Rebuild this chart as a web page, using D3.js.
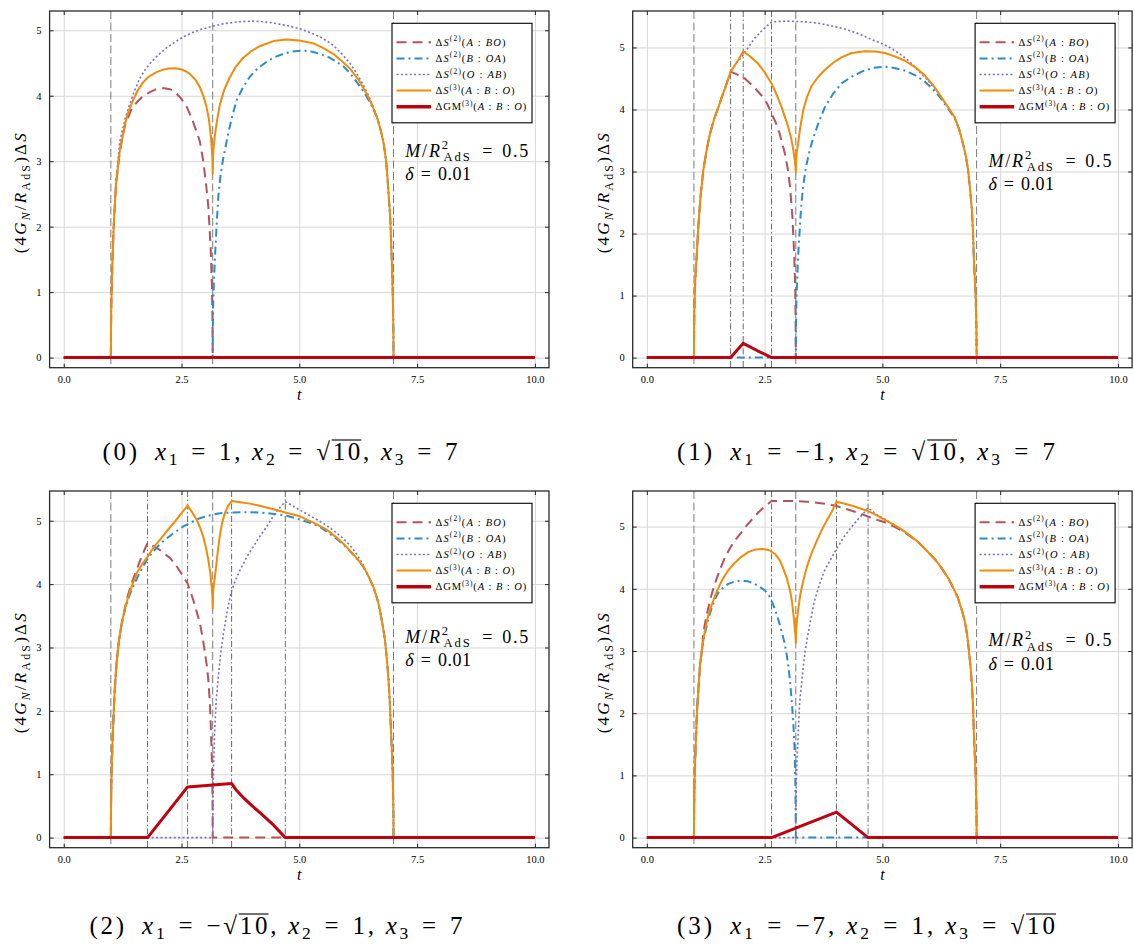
<!DOCTYPE html>
<html>
<head>
<meta charset="utf-8">
<script src="https://cdn.jsdelivr.net/npm/d3@7"></script>
<style>
  body { margin: 0; background: #fff; }
  svg text { font-family: 'Liberation Serif', 'DejaVu Serif', serif; fill: #000; }
</style>
</head>
<body>
<svg id="fig" width="1134" height="945"></svg>
<script>
// ticks
const xTicks = [0, 2.5, 5, 7.5, 10];
const xTickLabels = ['0.0', '2.5', '5.0', '7.5', '10.0'];
const yTicks = [0, 1, 2, 3, 4, 5];

// ---- panneau (0) : x1 = 1, x2 = sqrt(10), x3 = 7 ----
const p0_vDash = [1, 3.162, 7];
const p0_vDashDot = [];
const p0_end = [[6.65,3.67],[6.73,3.47],[6.79,3.27],[6.84,3.02],[6.87,2.76],[6.9,2.45],[6.93,2.14],[6.96,1.55],[6.975,1.2],[6.99,0.8],[6.997,0.4],[7,0],[10,0]];
const p0_A = [[0,0],[1,0],[1.003,0.4],[1.01,0.8],[1.02,1.1],[1.035,1.48],[1.06,2.0],[1.11,2.65],[1.19,3.15],[1.3,3.55],[1.44,3.8],[1.55,3.9],[1.65,3.97],[1.74,4.02],[1.84,4.06],[1.93,4.09],[2.03,4.11],[2.14,4.115],[2.25,4.1],[2.36,4.06],[2.5,3.95],[2.61,3.83],[2.71,3.67],[2.82,3.45],[2.89,3.3],[2.96,3.01],[3.02,2.65],[3.07,2.3],[3.12,1.65],[3.145,1.1],[3.157,0.6],[3.162,0],[10,0]];
const p0_B = [[0,0],[3.162,0],[3.165,0.5],[3.175,0.9],[3.19,1.2],[3.21,1.53],[3.24,1.95],[3.28,2.45],[3.33,2.8],[3.39,3.06],[3.49,3.42],[3.58,3.7],[3.67,3.93],[3.8,4.12],[3.95,4.29],[4.12,4.42],[4.31,4.52],[4.48,4.59],[4.66,4.64],[4.85,4.675],[5.09,4.69],[5.25,4.675],[5.44,4.64],[5.62,4.59],[5.79,4.52],[5.95,4.44],[6.08,4.34],[6.22,4.21],[6.36,4.07],[6.45,3.96],[6.55,3.83]].concat(p0_end);
const p0_O = [[0,0],[1,0],[1.003,0.4],[1.01,0.8],[1.02,1.1],[1.035,1.5],[1.06,2.05],[1.11,2.7],[1.19,3.3],[1.3,3.64],[1.4,3.87],[1.5,4.07],[1.61,4.26],[1.72,4.39],[1.83,4.49],[2.0,4.62],[2.18,4.73],[2.36,4.82],[2.54,4.9],[2.72,4.96],[2.89,5.01],[3.16,5.06],[3.4,5.1],[3.6,5.12],[3.8,5.135],[4.02,5.14],[4.25,5.13],[4.45,5.11],[4.75,5.07],[5.02,5.02],[5.25,4.96],[5.44,4.9],[5.6,4.83],[5.72,4.77],[5.9,4.64],[6.08,4.49],[6.22,4.34],[6.36,4.16],[6.47,4.0],[6.57,3.83]].concat(p0_end);
const p0_S3 = [[0,0],[1,0],[1.003,0.4],[1.01,0.8],[1.02,1.1],[1.035,1.48],[1.06,2.0],[1.11,2.65],[1.19,3.16],[1.3,3.57],[1.38,3.77],[1.47,3.93],[1.57,4.08],[1.68,4.2],[1.8,4.29],[1.97,4.36],[2.1,4.395],[2.22,4.415],[2.36,4.42],[2.5,4.4],[2.6,4.37],[2.68,4.33],[2.8,4.24],[2.89,4.13],[2.97,3.98],[3.03,3.83],[3.08,3.65],[3.12,3.4],[3.145,3.17],[3.155,3.04],[3.162,2.81],[3.17,3.06],[3.18,3.19],[3.21,3.4],[3.25,3.6],[3.31,3.85],[3.4,4.08],[3.53,4.29],[3.65,4.44],[3.81,4.58],[4.0,4.69],[4.17,4.76],[4.45,4.835],[4.73,4.86],[5.0,4.845],[5.3,4.8],[5.5,4.73],[5.72,4.64],[5.9,4.53],[6.08,4.41],[6.25,4.25],[6.43,4.03],[6.55,3.85]].concat(p0_end);
const p0_GM = [[0,0],[10,0]];

// ---- panneau (1) : x1 = -1, x2 = sqrt(10), x3 = 7 ----
const p1_vDash = [1, 3.162, 7];
const p1_vDashDot = [1.778, 2.046, 2.647];
const p1_start = [[0,0],[1,0],[1.003,0.4],[1.01,0.8],[1.02,1.1],[1.035,1.35],[1.057,1.62],[1.092,2.11],[1.14,2.6],[1.198,3.02],[1.27,3.35],[1.34,3.61],[1.43,3.85],[1.52,4.04],[1.6,4.22],[1.66,4.34],[1.72,4.48],[1.778,4.61]];
const p1_end = [[6.63,3.68],[6.71,3.45],[6.77,3.25],[6.82,3.02],[6.86,2.72],[6.9,2.38],[6.925,2.0],[6.94,1.62],[6.96,1.3],[6.98,0.95],[6.992,0.6],[6.998,0.3],[7,0],[10,0]];
const p1_A = p1_start.concat([[1.9,4.57],[2.08,4.5],[2.25,4.38],[2.43,4.23],[2.55,4.1],[2.647,3.94],[2.74,3.78],[2.82,3.61],[2.93,3.29],[2.99,3.05],[3.04,2.75],[3.09,2.27],[3.13,1.62],[3.15,1.1],[3.158,0.6],[3.162,0],[10,0]]);
const p1_B = [[0,0],[3.162,0],[3.165,0.5],[3.175,0.9],[3.19,1.25],[3.21,1.62],[3.24,2.0],[3.27,2.38],[3.32,2.78],[3.38,3.08],[3.45,3.32],[3.52,3.51],[3.65,3.8],[3.78,4.04],[3.95,4.25],[4.13,4.42],[4.35,4.53],[4.56,4.61],[4.8,4.67],[5.05,4.69],[5.25,4.67],[5.47,4.63],[5.7,4.55],[5.9,4.45],[6.08,4.32],[6.25,4.17],[6.35,4.06],[6.46,3.94],[6.53,3.86]].concat(p1_end);
const p1_O = p1_start.concat([[1.9,4.75],[2.046,4.88],[2.17,5.02],[2.29,5.15],[2.4,5.24],[2.51,5.32],[2.647,5.41],[2.8,5.42],[3.0,5.425],[3.16,5.42],[3.4,5.41],[3.64,5.39],[3.9,5.35],[4.13,5.31],[4.35,5.26],[4.56,5.2],[4.8,5.12],[5.0,5.06],[5.2,4.98],[5.4,4.88],[5.58,4.77],[5.76,4.63],[5.95,4.48],[6.11,4.34],[6.26,4.19],[6.39,4.04],[6.53,3.88]], p1_end);
const p1_S3 = p1_start.concat([[1.85,4.69],[1.95,4.81],[2.046,4.94],[2.2,4.85],[2.36,4.74],[2.5,4.6],[2.647,4.42],[2.76,4.23],[2.86,4.04],[2.93,3.88],[3.0,3.72],[3.06,3.55],[3.11,3.34],[3.14,3.18],[3.155,3.07],[3.162,2.98],[3.17,3.2],[3.185,3.32],[3.21,3.45],[3.26,3.73],[3.32,3.99],[3.4,4.2],[3.49,4.37],[3.63,4.52],[3.78,4.64],[3.95,4.75],[4.13,4.84],[4.35,4.91],[4.62,4.94],[4.85,4.935],[5.05,4.91],[5.25,4.86],[5.47,4.79],[5.7,4.68],[5.9,4.55],[6.08,4.39],[6.25,4.2],[6.4,4.03],[6.53,3.88]], p1_end);
const p1_GM = [[0,0],[1.778,0],[2.046,0.23],[2.35,0.11],[2.647,0],[10,0]];

// ---- panneau (2) : x1 = -sqrt(10), x2 = 1, x3 = 7 ----
const p2_vDash = [1, 3.162, 7];
const p2_vDashDot = [1.779, 2.629, 3.563, 4.703];
const p2_start = [[0,0],[1,0],[1.003,0.4],[1.01,0.85],[1.02,1.15],[1.035,1.5],[1.05,1.79],[1.08,2.3],[1.12,2.74],[1.17,3.1],[1.23,3.38]];
const p2_end = [[6.57,3.96],[6.65,3.78],[6.71,3.59],[6.77,3.35],[6.82,3.11],[6.86,2.8],[6.89,2.53],[6.92,2.15],[6.94,1.79],[6.96,1.45],[6.98,1.05],[6.993,0.65],[6.998,0.35],[7,0],[10,0]];
const p2_A = p2_start.concat([[1.3,3.63],[1.36,3.82],[1.45,4.03],[1.55,4.23],[1.66,4.45],[1.779,4.65],[1.9,4.6],[2.02,4.55],[2.14,4.48],[2.26,4.41],[2.37,4.31],[2.47,4.2],[2.629,4.01],[2.75,3.75],[2.82,3.57],[2.89,3.38],[2.95,3.15],[2.99,2.95],[3.04,2.7],[3.07,2.48],[3.1,2.15],[3.12,1.79],[3.14,1.35],[3.153,0.9],[3.159,0.5],[3.162,0],[10,0]]);
const p2_B = p2_start.concat([[1.3,3.6],[1.38,3.79],[1.47,3.96],[1.58,4.13],[1.68,4.27],[1.779,4.4],[1.89,4.51],[2.03,4.62],[2.18,4.72],[2.36,4.82],[2.54,4.91],[2.72,4.98],[2.89,5.04],[3.07,5.08],[3.25,5.11],[3.42,5.125],[3.6,5.13],[3.78,5.135],[3.95,5.135],[4.15,5.13],[4.38,5.115],[4.55,5.1],[4.73,5.08],[5.01,5.02],[5.3,4.95],[5.44,4.9],[5.6,4.82],[5.8,4.71],[6.0,4.58],[6.18,4.44],[6.36,4.27],[6.47,4.12]], p2_end);
const p2_O = [[0,0],[3.162,0],[3.165,0.5],[3.175,0.95],[3.19,1.35],[3.21,1.79],[3.24,2.2],[3.28,2.53],[3.33,2.9],[3.39,3.22],[3.47,3.58],[3.563,3.9],[3.65,4.07],[3.74,4.22],[3.88,4.42],[4.02,4.59],[4.16,4.75],[4.31,4.91],[4.42,5.04],[4.52,5.15],[4.61,5.23],[4.703,5.3],[4.85,5.24],[5.01,5.17],[5.2,5.09],[5.37,5.02],[5.55,4.94],[5.72,4.85],[5.9,4.74],[6.08,4.61],[6.22,4.47],[6.36,4.3],[6.47,4.13]].concat(p2_end);
const p2_S3 = p2_start.concat([[1.3,3.62],[1.37,3.8],[1.46,4.0],[1.55,4.17],[1.66,4.31],[1.779,4.43],[1.9,4.57],[2.04,4.7],[2.18,4.83],[2.33,4.96],[2.48,5.1],[2.629,5.24],[2.72,5.14],[2.82,5.02],[2.9,4.88],[2.96,4.75],[3.02,4.57],[3.07,4.38],[3.11,4.18],[3.14,3.96],[3.155,3.82],[3.162,3.61],[3.17,3.86],[3.185,3.98],[3.21,4.12],[3.26,4.45],[3.31,4.75],[3.36,4.96],[3.42,5.12],[3.49,5.24],[3.563,5.31],[3.75,5.29],[3.95,5.27],[4.2,5.23],[4.45,5.18],[4.703,5.13],[5.01,5.07],[5.3,4.97],[5.58,4.86],[5.8,4.73],[6.0,4.59],[6.18,4.44],[6.36,4.28],[6.47,4.12]], p2_end);
const p2_GM = [[0,0],[1.779,0],[2.629,0.8],[3.162,0.83],[3.563,0.855],[3.65,0.76],[3.8,0.64],[4.0,0.5],[4.2,0.37],[4.45,0.2],[4.703,0],[10,0]];

// ---- panneau (3) : x1 = -7, x2 = 1, x3 = sqrt(10) ----
const p3_vDash = [1, 3.162, 7];
const p3_vDashDot = [2.647, 4.025, 4.696];
const p3_start = [[0,0],[1,0],[1.003,0.4],[1.01,0.85],[1.02,1.15],[1.043,1.6],[1.07,2.1],[1.1,2.45],[1.13,2.78],[1.18,3.08]];
const p3_end = [[6.25,4.34],[6.39,4.18],[6.5,4.02],[6.6,3.86],[6.68,3.67],[6.75,3.48],[6.8,3.25],[6.83,3.05],[6.87,2.75],[6.9,2.46],[6.925,2.1],[6.94,1.71],[6.96,1.35],[6.98,0.98],[6.993,0.6],[6.998,0.32],[7,0],[10,0]];
const p3_A = p3_start.concat([[1.2,3.3],[1.27,3.58],[1.34,3.81],[1.41,4.0],[1.48,4.16],[1.57,4.34],[1.66,4.51],[1.77,4.66],[1.87,4.78],[2.0,4.9],[2.12,5.02],[2.25,5.13],[2.37,5.23],[2.5,5.32],[2.647,5.41],[2.9,5.41],[3.14,5.41],[3.4,5.4],[3.64,5.38],[3.85,5.36],[4.025,5.33],[4.25,5.28],[4.49,5.22],[4.7,5.16],[4.88,5.11],[5.05,5.07],[5.22,5.01],[5.4,4.94],[5.58,4.85],[5.76,4.75],[5.93,4.62],[6.11,4.48]], p3_end);
const p3_B = p3_start.concat([[1.23,3.27],[1.3,3.5],[1.38,3.7],[1.45,3.84],[1.52,3.94],[1.62,4.02],[1.73,4.08],[1.87,4.12],[2.01,4.13],[2.15,4.12],[2.29,4.08],[2.4,4.03],[2.51,3.97],[2.6,3.88],[2.68,3.75],[2.75,3.6],[2.82,3.43],[2.88,3.26],[2.93,3.11],[2.97,2.93],[3.01,2.73],[3.04,2.5],[3.07,2.25],[3.1,1.95],[3.13,1.55],[3.148,1.1],[3.157,0.6],[3.162,0],[10,0]]);
const p3_O = [[0,0],[3.162,0],[3.165,0.5],[3.175,0.95],[3.19,1.3],[3.21,1.6],[3.24,2.14],[3.31,2.68],[3.36,3.0],[3.42,3.27],[3.49,3.55],[3.56,3.81],[3.66,4.06],[3.77,4.29],[3.9,4.47],[4.025,4.64],[4.18,4.83],[4.34,4.99],[4.45,5.09],[4.56,5.18],[4.63,5.24],[4.696,5.3],[4.88,5.19],[5.05,5.12],[5.22,5.04],[5.4,4.95],[5.58,4.86],[5.76,4.75],[5.93,4.62],[6.11,4.48]].concat(p3_end);
const p3_S3 = p3_start.concat([[1.23,3.32],[1.3,3.56],[1.38,3.75],[1.48,3.95],[1.59,4.13],[1.72,4.29],[1.87,4.42],[2.0,4.51],[2.15,4.59],[2.3,4.63],[2.47,4.64],[2.6,4.62],[2.72,4.56],[2.82,4.46],[2.89,4.34],[2.97,4.17],[3.04,3.97],[3.08,3.8],[3.11,3.6],[3.14,3.37],[3.155,3.25],[3.162,3.13],[3.17,3.36],[3.185,3.48],[3.21,3.65],[3.26,3.92],[3.32,4.13],[3.4,4.36],[3.49,4.56],[3.6,4.76],[3.71,4.94],[3.82,5.1],[3.92,5.23],[4.025,5.4],[4.18,5.37],[4.34,5.34],[4.5,5.3],[4.696,5.25],[4.88,5.18],[5.05,5.11],[5.22,5.04],[5.4,4.96],[5.58,4.86],[5.76,4.75],[5.93,4.62],[6.11,4.48]], p3_end);
const p3_GM = [[0,0],[2.647,0],[4.025,0.41],[4.696,0],[10,0]];

// légendes et textes
const EQ = '\u2004=\u2004';
const legendLabels = [
  [['Δ','r'],['S','i'],['(2)','sup'],['(','r'],['A','i'],[' : ','r'],['BO','i'],[')','r']],
  [['Δ','r'],['S','i'],['(2)','sup'],['(','r'],['B','i'],[' : ','r'],['OA','i'],[')','r']],
  [['Δ','r'],['S','i'],['(2)','sup'],['(','r'],['O','i'],[' : ','r'],['AB','i'],[')','r']],
  [['Δ','r'],['S','i'],['(3)','sup'],['(','r'],['A','i'],[' : ','r'],['B','i'],[' : ','r'],['O','i'],[')','r']],
  [['ΔGM','r'],['(3)','sup'],['(','r'],['A','i'],[' : ','r'],['B','i'],[' : ','r'],['O','i'],[')','r']]
];
const legendWidths = [70, 70, 70.7, 79, 90.7];
const captions = [
  [['(0)\u2002','r'],['x','i'],['1','sub'],[EQ + '1, ','r'],['x','i'],['2','sub'],[EQ + '√','r'],['10','rad'],[', ','r'],['x','i'],['3','sub'],[EQ + '7','r']],
  [['(1)\u2002','r'],['x','i'],['1','sub'],[EQ + '−1, ','r'],['x','i'],['2','sub'],[EQ + '√','r'],['10','rad'],[', ','r'],['x','i'],['3','sub'],[EQ + '7','r']],
  [['(2)\u2002','r'],['x','i'],['1','sub'],[EQ + '−√','r'],['10','rad'],[', ','r'],['x','i'],['2','sub'],[EQ + '1, ','r'],['x','i'],['3','sub'],[EQ + '7','r']],
  [['(3)\u2002','r'],['x','i'],['1','sub'],[EQ + '−7, ','r'],['x','i'],['2','sub'],[EQ + '1, ','r'],['x','i'],['3','sub'],[EQ + '√','r'],['10','rad']]
];
const captionWidths = [355, 378, 373, 378];
const yLabel = [['(4','r'],['G','i'],['N','subi'],['/','r'],['R','i'],['AdS','sub'],[')Δ','r'],['S','i']];
const note1 = [['M','i'],['/','r'],['R','i'],['2','sup'],['AdS','sub', -6.3],['\u2002=\u20040.5','r']];
const note2 = [['δ','i'],[EQ + '0.01','r']];

// styles des séries
const styles = [
  {color: '#b5525c', width: 2, dash: '10,6'},
  {color: '#2d8bc9', width: 2, dash: '8,4,2,4'},
  {color: '#7a6ebd', width: 1.6, dash: '2,2.4'},
  {color: '#f08c0a', width: 2, dash: null},
  {color: '#c0000f', width: 3, dash: null}
];

const dims = {w: 499.4, h: 356.7};
const panels = [
  {x: 49.6,  y: 11,  series: [p0_A, p0_B, p0_O, p0_S3, p0_GM], vDash: p0_vDash, vDashDot: p0_vDashDot, cx: 280, cy: 460},
  {x: 632.7, y: 11,  series: [p1_A, p1_B, p1_O, p1_S3, p1_GM], vDash: p1_vDash, vDashDot: p1_vDashDot, cx: 866, cy: 460},
  {x: 49.6,  y: 491, series: [p2_A, p2_B, p2_O, p2_S3, p2_GM], vDash: p2_vDash, vDashDot: p2_vDashDot, cx: 276, cy: 934},
  {x: 632.7, y: 491, series: [p3_A, p3_B, p3_O, p3_S3, p3_GM], vDash: p3_vDash, vDashDot: p3_vDashDot, cx: 866, cy: 934}
];

const svg = d3.select('#fig');

// texte "mathématique" en tspans
const mtext = (parent, parts, size, subDrop) => {
  const t = parent.append('text').attr('font-size', size);
  let off = 0, idx = 0;
  const rad = [];
  parts.forEach(([s, k, dx]) => {
    const sp = t.append('tspan').text(s);
    const want = k === 'sup' ? -0.42 * size : (k === 'sub' || k === 'subi') ? (subDrop || 0.24) * size : 0;
    if (want !== off) { sp.attr('dy', want - off); off = want; }
    if (k === 'sup' || k === 'sub' || k === 'subi') sp.attr('font-size', 0.7 * size);
    if (k === 'i' || k === 'subi') sp.attr('font-style', 'italic');
    if (dx) sp.attr('dx', dx);
    if (k === 'rad') rad.push([idx, idx + s.length]);
    idx += s.length;
  });
  return {t, rad};
};

// barre du radical
const drawRad = (parent, m, y, size) => {
  const node = m.t.node();
  m.rad.forEach(([a, b]) => {
    const x1 = node.getStartPositionOfChar(a).x - 1;
    const x2 = node.getEndPositionOfChar(b - 1).x + 1;
    parent.append('line')
          .attr('x1', x1).attr('x2', x2)
          .attr('y1', y - 0.8 * size).attr('y2', y - 0.8 * size)
          .attr('stroke', '#000').attr('stroke-width', 1.1);
  });
};

const line = d3.line();

panels.forEach((p, pi) => {
  const g = svg.append('g').attr('transform', `translate(${p.x}, ${p.y})`);

  const yMax = d3.max(p.series, s => d3.max(s, d => d[1]));
  const x = d3.scaleLinear().domain([-0.3, 10.3]).range([0, dims.w]);
  const y = d3.scaleLinear().domain([-0.03 * yMax, 1.03 * yMax]).range([dims.h, 0]);
  line.x(d => x(d[0])).y(d => y(d[1]));

  // grille
  g.append('g')
   .attr('transform', `translate(0, ${dims.h})`)
   .call(d3.axisBottom(x).tickValues(xTicks).tickSize(-dims.h).tickFormat(''))
   .call(a => a.select('.domain').remove())
   .selectAll('line').attr('stroke', '#d6d6d6').attr('stroke-width', 1);
  g.append('g')
   .call(d3.axisLeft(y).tickValues(yTicks).tickSize(-dims.w).tickFormat(''))
   .call(a => a.select('.domain').remove())
   .selectAll('line').attr('stroke', '#d6d6d6').attr('stroke-width', 1);

  // lignes verticales
  g.selectAll('.vdash').data(p.vDash).enter().append('line')
   .attr('x1', d => x(d)).attr('x2', d => x(d)).attr('y1', 0).attr('y2', dims.h)
   .attr('stroke', '#7a7a7a').attr('stroke-width', 1).attr('stroke-dasharray', '8,3.5');
  g.selectAll('.vdd').data(p.vDashDot).enter().append('line')
   .attr('x1', d => x(d)).attr('x2', d => x(d)).attr('y1', 0).attr('y2', dims.h)
   .attr('stroke', '#6a6a6a').attr('stroke-width', 1).attr('stroke-dasharray', '6,2.5,1.5,2.5');

  // courbes
  p.series.forEach((s, i) => {
    g.append('path')
     .attr('d', line(s))
     .attr('fill', 'none')
     .attr('stroke', styles[i].color)
     .attr('stroke-width', styles[i].width)
     .attr('stroke-linejoin', 'round')
     .attr('stroke-dasharray', styles[i].dash);
  });

  // cadre + graduations
  const axes = [
    [d3.axisBottom(x).tickValues(xTicks).tickFormat((d, i) => xTickLabels[i]), `translate(0, ${dims.h})`],
    [d3.axisTop(x).tickValues(xTicks).tickFormat(''), 'translate(0, 0)'],
    [d3.axisLeft(y).tickValues(yTicks).tickFormat(d3.format('d')), 'translate(0, 0)'],
    [d3.axisRight(y).tickValues(yTicks).tickFormat(''), `translate(${dims.w}, 0)`]
  ];
  axes.forEach(([ax, tr]) => {
    const a = g.append('g').attr('transform', tr)
               .call(ax.tickSizeInner(-4).tickSizeOuter(0).tickPadding(8));
    a.select('.domain').remove();
    a.selectAll('line').attr('stroke', '#222').attr('stroke-width', 1);
    a.selectAll('text').attr('font-size', 10.5).attr('font-family', "'Liberation Serif', serif");
  });
  g.append('rect').attr('width', dims.w).attr('height', dims.h)
   .attr('fill', 'none').attr('stroke', '#2a2a2a').attr('stroke-width', 1.3);

  // titres des axes
  g.append('text').attr('x', dims.w / 2).attr('y', dims.h + 32)
   .attr('text-anchor', 'middle').attr('font-size', 16).attr('font-style', 'italic').text('t');
  const yl = g.append('g').attr('transform', `translate(-29, ${dims.h / 2 + 4}) rotate(-90)`);
  mtext(yl, yLabel, 17).t.attr('text-anchor', 'middle').attr('y', 5)
    .attr('textLength', 120).attr('lengthAdjust', 'spacing');

  // légende
  const lg = g.append('g').attr('transform', `translate(${dims.w - 157}, 12.3)`);
  lg.append('rect').attr('width', 140).attr('height', 99.5)
    .attr('fill', '#fff').attr('stroke', '#000').attr('stroke-width', 1.1);
  legendLabels.forEach((lab, i) => {
    const ry = 19 + i * 16.1;
    lg.append('line').attr('x1', 4.5).attr('x2', 39).attr('y1', ry).attr('y2', ry)
      .attr('stroke', styles[i].color).attr('stroke-width', styles[i].width + (i === 4 ? 0.5 : 0))
      .attr('stroke-dasharray', styles[i].dash);
    mtext(lg, lab, 10.5).t.attr('x', 43.5).attr('y', ry + 3.5)
      .attr('textLength', legendWidths[i]).attr('lengthAdjust', 'spacing');
  });

  // annotation
  const nx = x(7.25), ny = y(2.97);
  mtext(g, note1, 18).t.attr('x', nx).attr('y', ny - 6.5)
    .attr('textLength', 123).attr('lengthAdjust', 'spacing');
  mtext(g, note2, 18).t.attr('x', nx).attr('y', ny + 16.8)
    .attr('textLength', 65.7).attr('lengthAdjust', 'spacing');

  // légende sous le graphe
  const cap = mtext(svg, captions[pi], 25, 0.18);
  cap.t.attr('x', p.cx).attr('y', p.cy).attr('text-anchor', 'middle')
       .attr('textLength', captionWidths[pi]).attr('lengthAdjust', 'spacing');
  drawRad(svg, cap, p.cy, 25);
});
</script>
</body>
</html>
